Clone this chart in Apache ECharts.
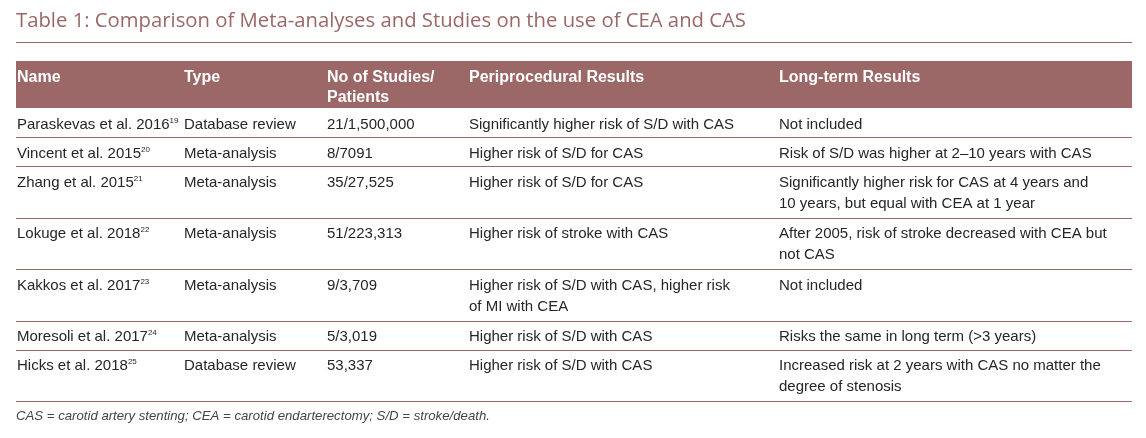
<!DOCTYPE html>
<html><head><meta charset="utf-8">
<script src="https://cdn.jsdelivr.net/npm/echarts@6/dist/echarts.min.js"></script>
<style>html,body{margin:0;padding:0;background:#fff}#c{width:1146px;height:438px}</style>
</head><body><div id="c"></div>
<script>
const titleText = 'Table 1: Comparison of Meta-analyses and Studies on the use of CEA and CAS';
const footnote = 'CAS = carotid artery stenting; CEA = carotid endarterectomy; S/D = stroke/death.';
const columns = ['Name', 'Type', 'No of Studies/\nPatients', 'Periprocedural Results', 'Long-term Results'];
const names = ['Paraskevas et al. 2016', 'Vincent et al. 2015', 'Zhang et al. 2015', 'Lokuge et al. 2018', 'Kakkos et al. 2017', 'Moresoli et al. 2017', 'Hicks et al. 2018'];
const refs = ['19', '20', '21', '22', '23', '24', '25'];
const types = ['Database review', 'Meta-analysis', 'Meta-analysis', 'Meta-analysis', 'Meta-analysis', 'Meta-analysis', 'Database review'];
const counts = ['21/1,500,000', '8/7091', '35/27,525', '51/223,313', '9/3,709', '5/3,019', '53,337'];
const periResults = [
  'Significantly higher risk of S/D with CAS',
  'Higher risk of S/D for CAS',
  'Higher risk of S/D for CAS',
  'Higher risk of stroke with CAS',
  'Higher risk of S/D with CAS, higher risk\nof MI with CEA',
  'Higher risk of S/D with CAS',
  'Higher risk of S/D with CAS'
];
const longResults = [
  'Not included',
  'Risk of S/D was higher at 2\u201310 years with CAS',
  'Significantly higher risk for CAS at 4 years and\n10 years, but equal with CEA at 1 year',
  'After 2005, risk of stroke decreased with CEA but\nnot CAS',
  'Not included',
  'Risks the same in long term (>3 years)',
  'Increased risk at 2 years with CAS no matter the\ndegree of stenosis'
];

// ---- layout (styles only) ----
const MAUVE = '#9c6767';
const TXT = '#262626';
const FONT = '"Liberation Sans", Arial, sans-serif';
const TITLE_FONT = '"Open Sans", "Liberation Sans", sans-serif';
const TABLE_W = 1116;
const colX = [1, 168, 311, 453, 763];
const HEADER_H = 47;
const LINE_H = 22.5, PAD = 6.5;

function lineCount(s) { return s.split('\n').length; }
const rowData = [];
let rowTop = HEADER_H;
for (let i = 0; i < names.length; i++) {
  const n = Math.max(lineCount(periResults[i]), lineCount(longResults[i]), 1);
  const h = PAD + LINE_H * n;
  rowData.push([i, rowTop, h]);
  rowTop += h;
}

const chart = echarts.init(document.getElementById('c'), null, {renderer: 'canvas'});
chart.setOption({
  animation: false,
  backgroundColor: '#fff',
  title: [
    {text: titleText, left: 16, top: 11, padding: 0,
     textStyle: {fontFamily: TITLE_FONT, fontSize: 20.3, fontWeight: 'normal', color: MAUVE}},
    {text: footnote, left: 16, top: 410, padding: 0,
     textStyle: {fontFamily: FONT, fontSize: 13.2, fontStyle: 'italic', fontWeight: 'normal', color: '#444'}}
  ],
  graphic: [{type: 'line', shape: {x1: 16, y1: 42.5, x2: 1132, y2: 42.5}, style: {stroke: MAUVE, lineWidth: 1}}],
  grid: {left: 16, top: 61, width: TABLE_W, height: 340},
  xAxis: {type: 'value', min: 0, max: TABLE_W, show: false},
  yAxis: {type: 'value', min: 0, max: 340, inverse: true, show: false},
  series: [
    {
      type: 'custom', clip: false, silent: true,
      data: [[0, 0, HEADER_H]],
      renderItem: function (params, api) {
        const p0 = api.coord([0, 0]);
        const p1 = api.coord([TABLE_W, api.value(2)]);
        const children = [{type: 'rect', shape: {x: p0[0], y: p0[1], width: p1[0] - p0[0], height: p1[1] - p0[1]}, style: {fill: MAUVE}}];
        columns.forEach(function (c, j) {
          const p = api.coord([colX[j], 0]);
          children.push({type: 'text', style: {text: c, x: p[0], y: p[1] + 6.5, fill: '#fff', font: 'bold 16px ' + FONT, lineHeight: 20, verticalAlign: 'top'}});
        });
        return {type: 'group', children: children};
      }
    },
    {
      type: 'custom', clip: false, silent: true,
      data: rowData,
      renderItem: function (params, api) {
        const i = api.value(0), t = api.value(1), h = api.value(2);
        const cells = [null, types[i], counts[i], periResults[i], longResults[i]];
        const children = [];
        const pn = api.coord([colX[0], t]);
        children.push({type: 'text', style: {
          text: '{n|' + names[i] + '}{s|' + refs[i] + '}', x: pn[0], y: pn[1] + 6, verticalAlign: 'top',
          rich: {n: {font: '15px ' + FONT, fill: TXT, lineHeight: 21},
                 s: {font: '8px ' + FONT, fill: TXT, lineHeight: 21, padding: [0, 0, 8, 0]}}
        }});
        for (let j = 1; j < 5; j++) {
          const p = api.coord([colX[j], t]);
          children.push({type: 'text', style: {text: cells[j], x: p[0], y: p[1] + 6, fill: TXT, font: '15px ' + FONT, lineHeight: 21, verticalAlign: 'top'}});
        }
        const a = api.coord([0, t + h]), b = api.coord([TABLE_W, t + h]);
        children.push({type: 'line', shape: {x1: a[0], y1: Math.round(a[1]) + 0.5, x2: b[0], y2: Math.round(b[1]) + 0.5}, style: {stroke: MAUVE, lineWidth: 1}});
        return {type: 'group', children: children};
      }
    }
  ]
});
</script></body></html>
